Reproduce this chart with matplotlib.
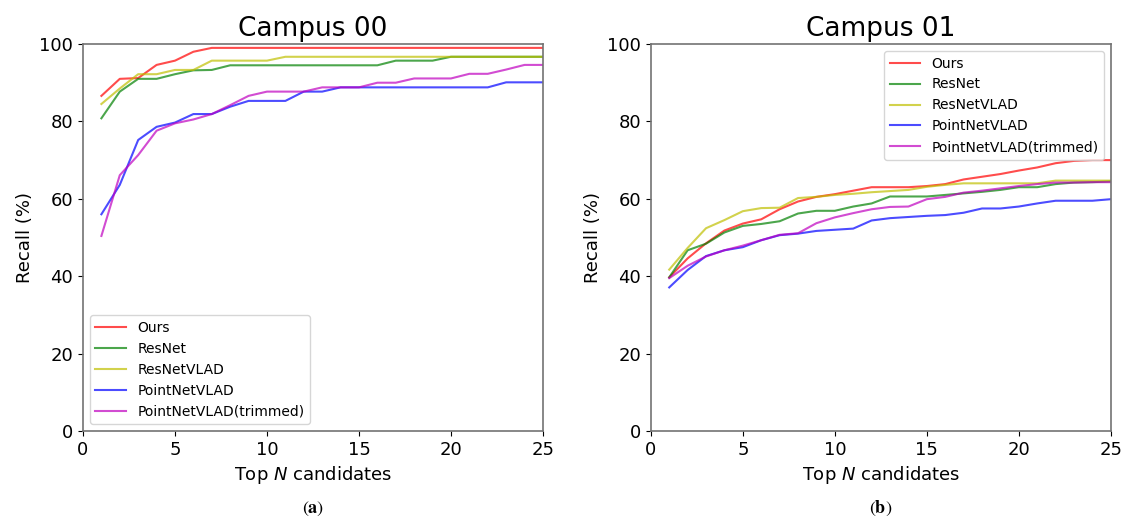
import matplotlib
matplotlib.use('Agg')
import matplotlib.pyplot as plt

top_n = list(range(1, 26))
labels = ['Ours', 'ResNet', 'ResNetVLAD', 'PointNetVLAD', 'PointNetVLAD(trimmed)']
colors = ['r', 'g', 'y', 'b', 'm']

# Campus 00
c00_ours = [86.6, 91.0, 91.2, 94.6, 95.7, 98.0, 99.0, 99.0, 99.0, 99.0,
            99.0, 99.0, 99.0, 99.0, 99.0, 99.0, 99.0, 99.0, 99.0, 99.0,
            99.0, 99.0, 99.0, 99.0, 99.0]
c00_resnet = [80.8, 87.7, 91.0, 91.0, 92.2, 93.2, 93.3, 94.5, 94.5, 94.5,
              94.5, 94.5, 94.5, 94.5, 94.5, 94.5, 95.7, 95.7, 95.7, 96.7,
              96.7, 96.7, 96.7, 96.7, 96.7]
c00_resnetvlad = [84.5, 88.5, 92.2, 92.2, 93.3, 93.3, 95.7, 95.7, 95.7, 95.7,
                  96.7, 96.7, 96.7, 96.7, 96.7, 96.7, 96.7, 96.7, 96.7, 96.7,
                  96.7, 96.7, 96.7, 96.7, 96.7]
c00_pointnetvlad = [56.0, 63.6, 75.2, 78.6, 79.7, 81.9, 81.9, 83.8, 85.3, 85.3,
                    85.3, 87.7, 87.7, 88.8, 88.8, 88.8, 88.8, 88.8, 88.8, 88.8,
                    88.8, 88.8, 90.1, 90.1, 90.1]
c00_trimmed = [50.4, 66.1, 71.3, 77.6, 79.5, 80.5, 81.9, 84.2, 86.6, 87.7,
               87.7, 87.7, 88.8, 88.8, 88.8, 90.0, 90.0, 91.1, 91.1, 91.1,
               92.3, 92.3, 93.4, 94.6, 94.6]

# Campus 01
c01_ours = [39.7, 44.6, 48.5, 51.8, 53.6, 54.7, 57.3, 59.3, 60.5, 61.2,
            62.1, 63.0, 63.0, 63.0, 63.3, 63.8, 65.0, 65.7, 66.4, 67.3,
            68.1, 69.2, 69.8, 70.0, 70.0]
c01_resnet = [39.7, 46.7, 48.4, 51.3, 53.0, 53.5, 54.2, 56.2, 56.9, 56.9,
              58.0, 58.8, 60.6, 60.6, 60.6, 61.0, 61.4, 61.8, 62.3, 63.0,
              63.0, 63.8, 64.2, 64.3, 64.5]
c01_resnetvlad = [41.7, 47.3, 52.4, 54.5, 56.8, 57.6, 57.7, 60.2, 60.5, 61.0,
                  61.3, 61.7, 62.0, 62.3, 63.1, 63.6, 64.0, 64.0, 64.0, 64.0,
                  64.0, 64.7, 64.7, 64.7, 64.7]
c01_pointnetvlad = [37.1, 41.6, 45.2, 46.7, 47.5, 49.3, 50.6, 51.0, 51.7, 52.0,
                    52.3, 54.4, 55.0, 55.3, 55.6, 55.8, 56.4, 57.5, 57.5, 58.0,
                    58.8, 59.5, 59.5, 59.5, 59.9]
c01_trimmed = [39.5, 42.7, 45.1, 46.7, 47.9, 49.3, 50.7, 51.1, 53.7, 55.2,
               56.3, 57.3, 57.9, 58.0, 59.9, 60.5, 61.6, 62.1, 62.7, 63.3,
               63.8, 64.2, 64.2, 64.3, 64.3]

campus00 = [c00_ours, c00_resnet, c00_resnetvlad, c00_pointnetvlad, c00_trimmed]
campus01 = [c01_ours, c01_resnet, c01_resnetvlad, c01_pointnetvlad, c01_trimmed]

fig = plt.figure(figsize=(11.26, 5.24), dpi=100)
ax1 = fig.add_axes([0.0737, 0.1775, 0.4085, 0.7385])
ax2 = fig.add_axes([0.578, 0.1775, 0.4085, 0.7385])

for ax, series, title, loc in [(ax1, campus00, 'Campus 00', 'lower left'),
                               (ax2, campus01, 'Campus 01', 'upper right')]:
    for vals, c, lab in zip(series, colors, labels):
        ax.plot(top_n, vals, color=c, alpha=0.7, linewidth=1.5, label=lab)
    ax.set_xlim(0, 25)
    ax.set_ylim(0, 100)
    ax.set_xticks([0, 5, 10, 15, 20, 25])
    ax.set_yticks([0, 20, 40, 60, 80, 100])
    ax.tick_params(labelsize=13)
    ax.set_title(title, fontsize=19)
    ax.set_xlabel('Top $\\it{N}$ candidates', fontsize=13)
    ax.set_ylabel('Recall (%)', fontsize=13)
    for s in ax.spines.values():
        s.set_color('0.45')
        s.set_linewidth(1.2)
    ax.legend(loc=loc, fontsize=10, handlelength=2.2)

# sub-figure captions in a serif face
fig.text(0.2785, 0.022, r'$(\mathbf{a})$', ha='center', fontsize=13,
         math_fontfamily='stix')
fig.text(0.7825, 0.022, r'$(\mathbf{b})$', ha='center', fontsize=13,
         math_fontfamily='stix')

fig.savefig('out.png', dpi=100)
